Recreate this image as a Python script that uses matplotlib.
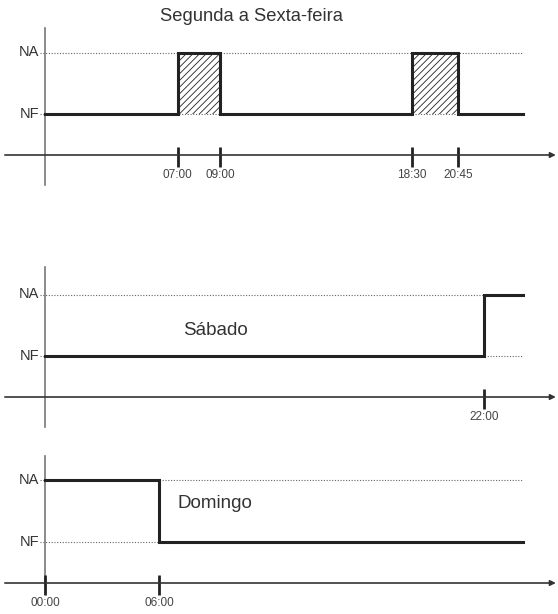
import numpy as np
import matplotlib.pyplot as plt

plt.rcParams['font.family'] = ['Liberation Sans', 'DejaVu Sans']
plt.rcParams['hatch.linewidth'] = 0.6

# niveis (eixo y esquemático)
NF, NA = 1.0, 2.5
NIVEL_NOMES = ['NF', 'NA']

# Segunda a Sexta-feira (posições esquemáticas, ~horas)
semana_ticks = ['07:00', '09:00', '18:30', '20:45']
semana_x = [0.0, 7.0, 9.25, 19.4, 21.83, 25.26]
semana_nivel = [NF, NA, NF, NA, NF, NF]

# Sábado
sabado_ticks = ['22:00']
sabado_x = [0.0, 23.2, 25.26]
sabado_nivel = [NF, NA, NA]

# Domingo
domingo_ticks = ['00:00', '06:00']
domingo_tick_x = [0.0, 6.0]
domingo_x = [0.0, 6.0, 25.26]
domingo_nivel = [NA, NF, NF]

W, H = 558, 614
PX_H = 18.9     # pixels por unidade x
PX_Y = 41.0     # pixels por unidade y
X_ORIG = 45.5   # pixel do eixo y
Y_TOP, Y_BOT = 155 / PX_Y, -0.85

fig = plt.figure(figsize=(W / 100, H / 100), dpi=100)


def painel(eixo_px, x, nivel, tick_x, tick_lab, y_eixo_top, y_eixo_bot,
           hachura=False, titulo=None, texto=None):
    top = eixo_px - Y_TOP * PX_Y
    h = (Y_TOP - Y_BOT) * PX_Y
    ax = fig.add_axes([0, 1 - (top + h) / H, 1, h / H])
    ax.set_xlim(-X_ORIG / PX_H, (W - X_ORIG) / PX_H)
    ax.set_ylim(Y_BOT, Y_TOP)
    ax.axis('off')

    x_fim = x[-1]
    # linhas pontilhadas dos níveis
    for lv, nome in zip([NF, NA], NIVEL_NOMES):
        ax.plot([-0.3, x_fim], [lv, lv], color='#666', lw=0.8, ls=(0, (1, 1.5)))
        ax.text(-0.32, lv, nome, ha='right', va='center', fontsize=10.5, color='#333')

    # eixo y
    ax.plot([0, 0], [y_eixo_bot, y_eixo_top], color='#777', lw=1.2)
    # eixo x com seta
    ax.annotate('', xy=(27.0, 0), xytext=(-2.15, 0),
                arrowprops=dict(arrowstyle='-|>', color='#333', lw=1.2,
                                mutation_scale=8, shrinkA=0, shrinkB=0))

    if hachura:
        xs = np.array(x)
        for i in range(len(xs) - 1):
            if nivel[i] == NA:
                ax.fill_between([xs[i], xs[i + 1]], NF, NA, facecolor='none',
                                edgecolor='#222', hatch='/////', linewidth=0)

    ax.step(x, nivel, where='post', color='#222', lw=2.2, solid_joinstyle='miter')

    ax.vlines(tick_x, -0.29, 0.2, color='#222', lw=2)
    for tx, lab in zip(tick_x, tick_lab):
        ax.text(tx, -0.49, lab, ha='center', va='center', fontsize=8.5, color='#444')

    if titulo:
        ax.text(10.87, 3.37, titulo, ha='center', va='center', fontsize=13.2,
                color='#333', clip_on=False)
    if texto:
        ax.text(*texto[1:], texto[0], ha='center', va='center', fontsize=13.5,
                color='#333')
    return ax


painel(155, semana_x, semana_nivel, semana_x[1:5], semana_ticks, 3.1, -0.73,
       hachura=True, titulo='Segunda a Sexta-feira')
painel(397, sabado_x, sabado_nivel, sabado_x[1:2], sabado_ticks, 3.17, -0.73,
       texto=('Sábado', 9.0, 1.63))
painel(583, domingo_x, domingo_nivel, domingo_tick_x, domingo_ticks, 3.1, 0.0,
       texto=('Domingo', 8.97, 1.95))

fig.savefig('out.png', dpi=100)
